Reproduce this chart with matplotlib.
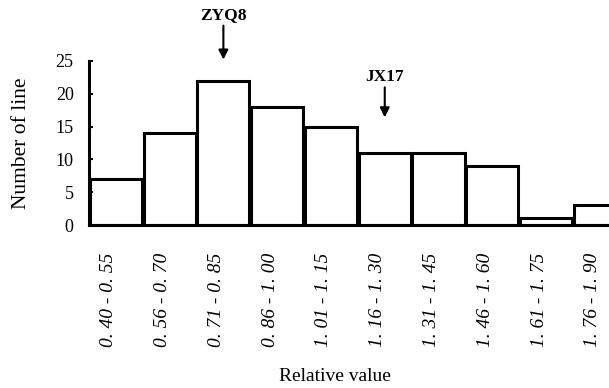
import matplotlib
matplotlib.use('Agg')
import matplotlib.pyplot as plt
import matplotlib.transforms as mtransforms

plt.rcParams['font.family'] = ['Liberation Serif', 'DejaVu Serif']

ranges = ['0. 40 - 0. 55', '0. 56 - 0. 70', '0. 71 - 0. 85', '0. 86 - 1. 00',
          '1. 01 - 1. 15', '1. 16 - 1. 30', '1. 31 - 1. 45', '1. 46 - 1. 60',
          '1. 61 - 1. 75', '1. 76 - 1. 90']
counts = [7, 14, 22, 18, 15, 11, 11, 9, 1, 3]
marks = ['ZYQ8', 'JX17']
mark_pos = [2, 5]
mark_tip = [25.2, 16.4]
mark_txt = [30.8, 21.4]

fig = plt.figure(figsize=(6.09, 3.88), dpi=100)
ax = fig.add_axes([0.146, 0.42, 0.87, 0.423])

x = list(range(len(counts)))
ax.bar(x, counts, width=0.97, color='white', edgecolor='black', linewidth=2.2)

ax.set_xlim(-0.5, 9.35)
ax.set_ylim(0, 25)
ax.set_yticks([0, 5, 10, 15, 20, 25])
ax.tick_params(axis='y', labelsize=13, direction='in', length=3, width=1.5, pad=11)
ax.set_xticks(x)
ax.set_xticklabels(ranges, rotation=90, fontsize=14, style='italic')
ax.tick_params(axis='x', length=0, pad=20)
shift = mtransforms.ScaledTranslation(-0.07, 0, fig.dpi_scale_trans)
for lab in ax.get_xticklabels():
    lab.set_transform(lab.get_transform() + shift)

for s in ['top', 'right']:
    ax.spines[s].set_visible(False)
ax.spines['left'].set_linewidth(2.2)
ax.spines['bottom'].set_linewidth(2.2)

ax.set_ylabel('Number of line', fontsize=15.5, labelpad=18)
ax.set_xlabel('Relative value', fontsize=14)
ax.xaxis.set_label_coords(0.465, -0.87)

for name, px, tip, ty in zip(marks, mark_pos, mark_tip, mark_txt):
    ax.annotate(name, xy=(px, tip), xytext=(px, ty), ha='center', va='bottom',
                fontsize=12.5, fontweight='bold', annotation_clip=False,
                arrowprops=dict(arrowstyle='-|>', color='black', lw=1.5,
                                mutation_scale=14, shrinkA=0, shrinkB=0))

fig.savefig('out.png', dpi=100)
